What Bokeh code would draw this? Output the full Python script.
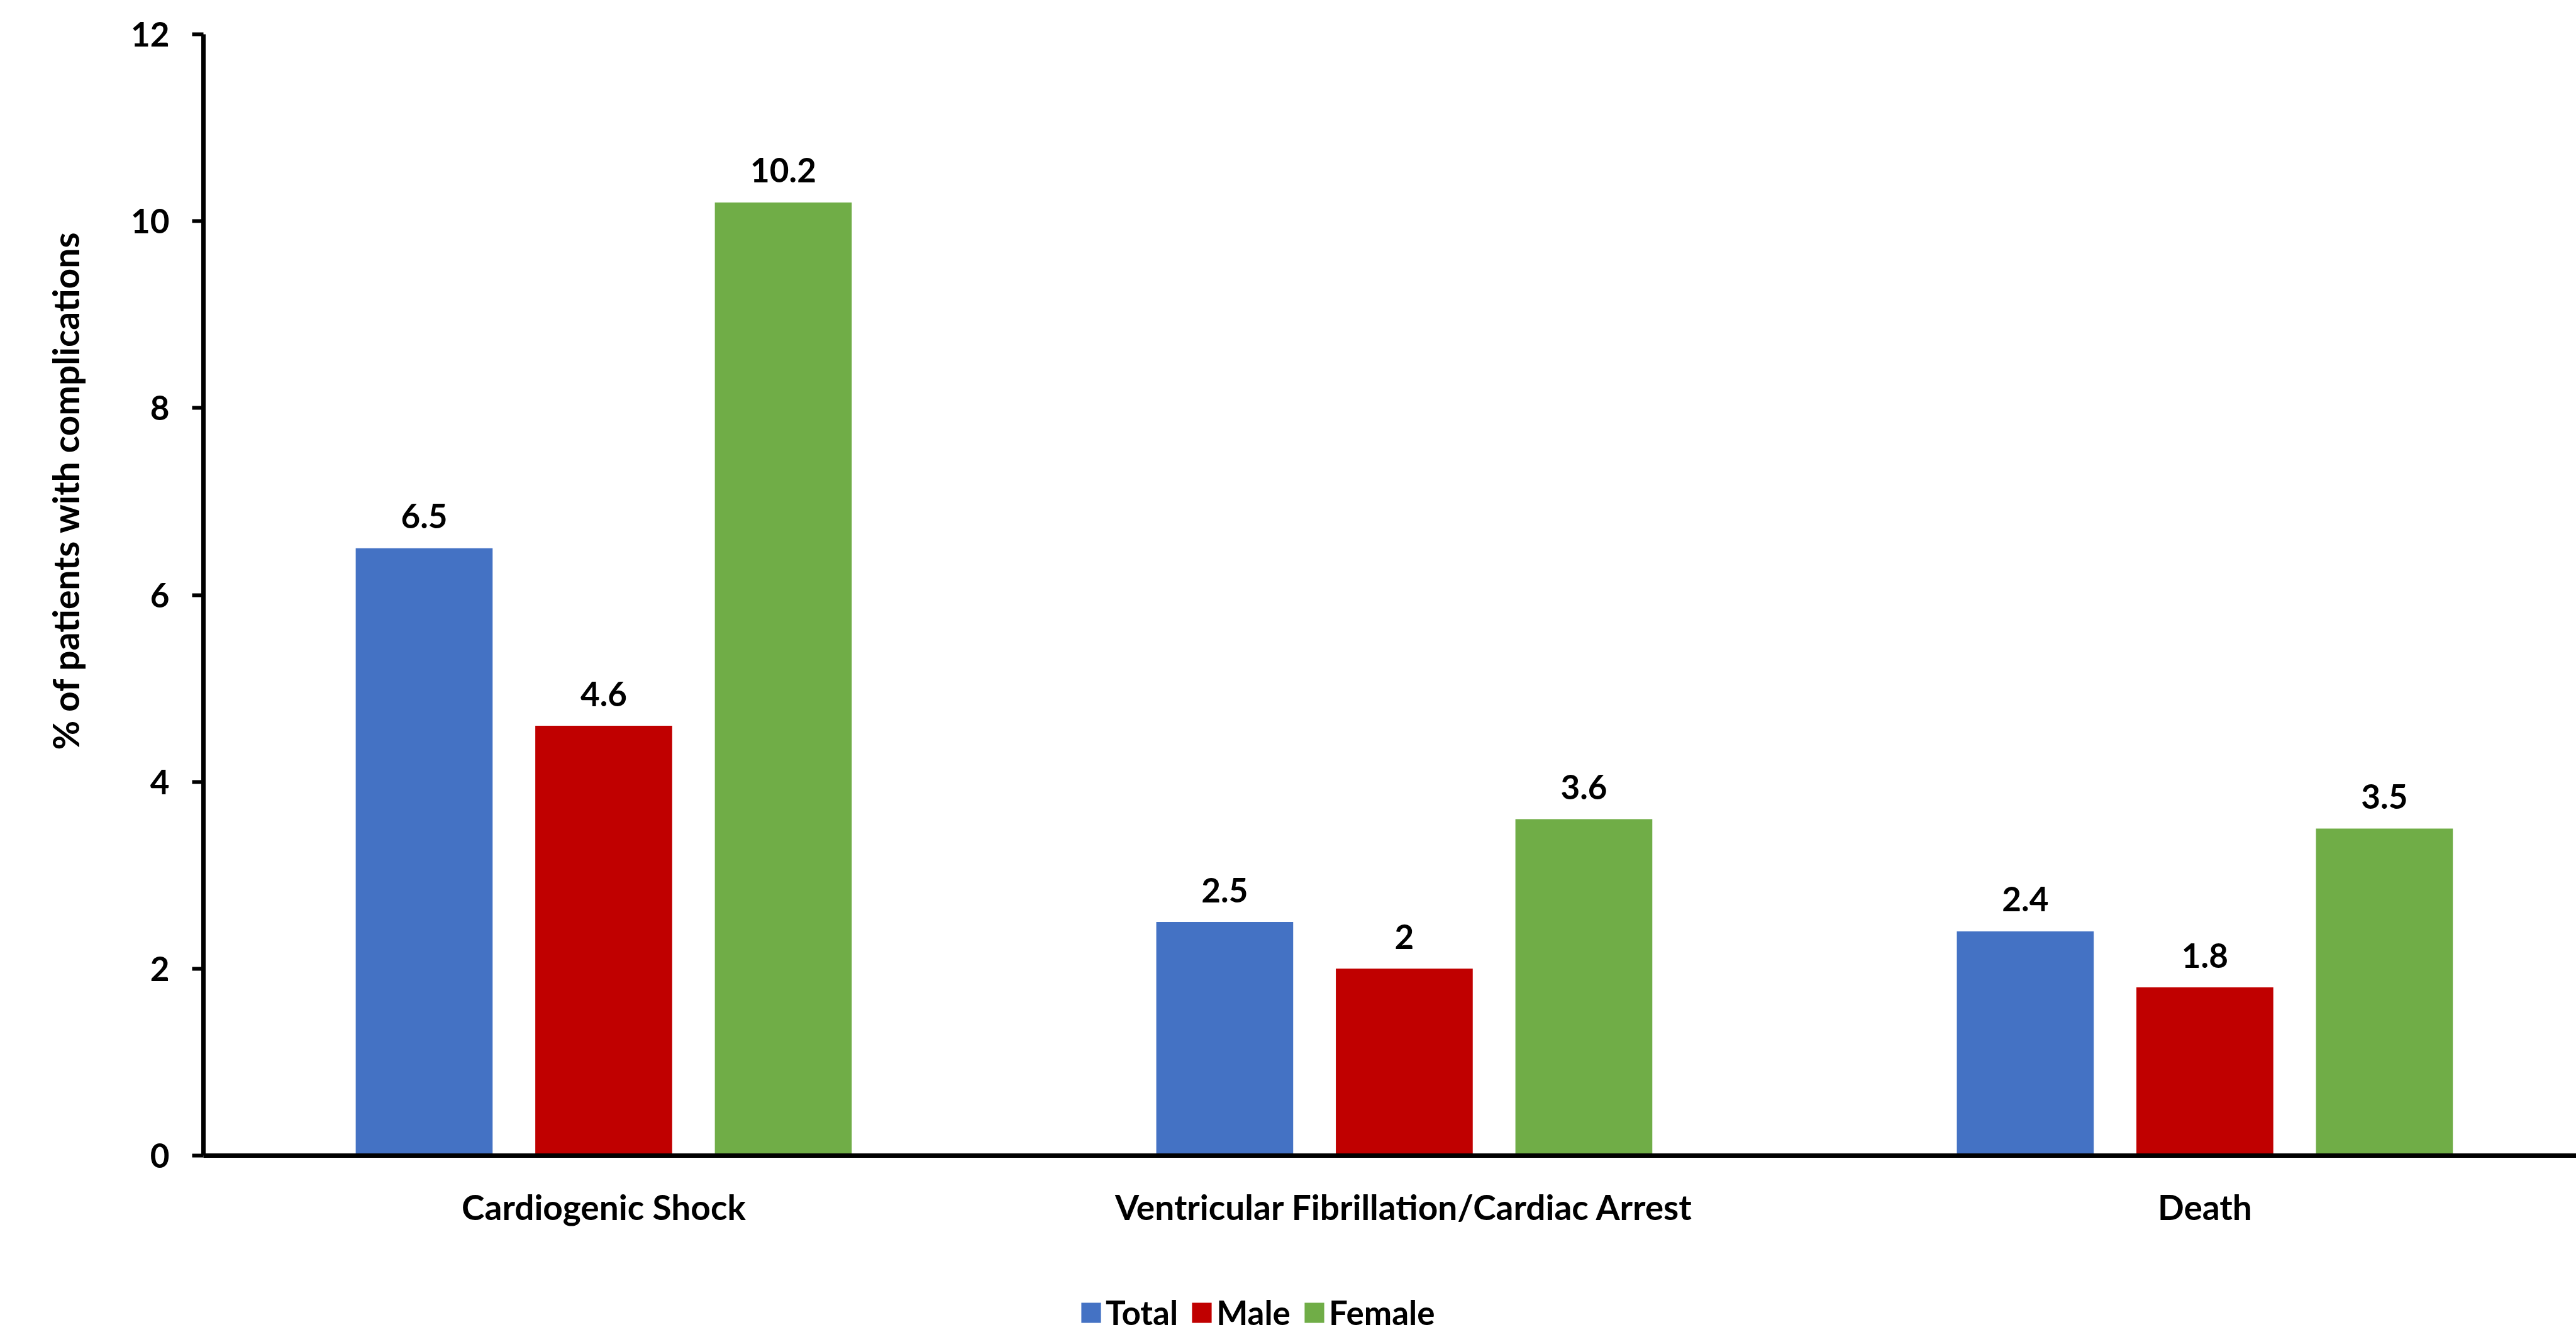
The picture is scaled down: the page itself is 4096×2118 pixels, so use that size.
from bokeh.core.properties import value
from bokeh.embed import file_html
from bokeh.layouts import column
from bokeh.models import (ColumnDataSource, FixedTicker, Legend, LegendItem,
                          Range1d, Title)
from bokeh.plotting import figure
from bokeh.resources import INLINE
from bokeh.transform import dodge

# ---- data -------------------------------------------------------------
categories = ["Cardiogenic Shock",
              "Ventricular Fibrillation/Cardiac Arrest",
              "Death"]
series_names = ["Total", "Male", "Female"]
total = [6.5, 2.5, 2.4]
male = [4.6, 2.0, 1.8]
female = [10.2, 3.6, 3.5]
y_ticks = [0, 2, 4, 6, 8, 10, 12]
y_label = "% of patients with complications"

# ---- styling ----------------------------------------------------------
colors = ["#4472C4", "#C00000", "#70AD47"]
FONT = "Lato"
NUM_SIZE = "53px"
CAT_SIZE = "55px"
BAR_W = 0.171
OFFSETS = [-0.2243, 0.0, 0.2243]

x_pos = [i + 0.5 for i in range(len(categories))]
series_values = [total, male, female]

src = ColumnDataSource(dict(
    x=x_pos,
    cat=categories,
    **{name: vals for name, vals in zip(series_names, series_values)},
    **{name + "_lbl": [f"{v:g}" for v in vals]
       for name, vals in zip(series_names, series_values)},
))

p = figure(
    width=4096, height=2030,
    x_range=Range1d(0, 2.964), y_range=Range1d(0, 12),
    output_backend="svg", toolbar_location=None,
    min_border_left=323, min_border_right=0,
    min_border_top=54, min_border_bottom=193,
)
p.background_fill_color = "white"
p.border_fill_color = "white"
p.outline_line_color = None
p.xgrid.visible = False
p.ygrid.visible = False

for name, off, col in zip(series_names, OFFSETS, colors):
    xs = dodge("x", off, range=p.x_range)
    p.vbar(x=xs, top=name, width=BAR_W, bottom=0, source=src,
           fill_color=col, line_color=None)
    p.text(x=xs, y=name, text=name + "_lbl", source=src,
           text_font=value(FONT), text_font_style="bold",
           text_font_size=NUM_SIZE, text_color="black",
           text_align="center", text_baseline="alphabetic", y_offset=-51)

# y axis
ya = p.yaxis[0]
ya.ticker = FixedTicker(ticks=y_ticks)
ya.axis_line_width = 7
ya.axis_line_color = "black"
ya.major_tick_line_width = 6
ya.major_tick_line_color = "black"
ya.major_tick_out = 18
ya.major_tick_in = 0
ya.minor_tick_line_color = None
ya.major_label_text_font = FONT
ya.major_label_text_font_style = "bold"
ya.major_label_text_font_size = NUM_SIZE
ya.major_label_text_color = "black"
ya.major_label_standoff = 36

# x axis with category names at the group centres
xa = p.xaxis[0]
xa.ticker = FixedTicker(ticks=x_pos)
xa.major_label_overrides = {x: c for x, c in zip(x_pos, categories)}
xa.axis_line_width = 7
xa.axis_line_color = "black"
xa.major_tick_line_color = None
xa.minor_tick_line_color = None
xa.major_label_text_font = FONT
xa.major_label_text_font_style = "bold"
xa.major_label_text_font_size = CAT_SIZE
xa.major_label_text_color = "black"
xa.major_label_standoff = 42

# rotated axis title in the left margin, starting above the frame bottom
p.add_layout(Title(
    text=y_label, align="left", offset=645, standoff=135,
    text_font=FONT, text_font_style="bold", text_font_size="57px",
    text_color="black",
), "left")

# ---- legend strip under the chart ------------------------------------
# Shares the x range; its y window lies far above the data, so the bars
# drawn here only serve as legend swatches.
leg = figure(
    width=4096, height=88,
    x_range=p.x_range, y_range=Range1d(1000, 2000),
    x_axis_type=None, y_axis_type=None,
    output_backend="svg", toolbar_location=None,
    min_border=0,
)
leg.outline_line_color = None
leg.xgrid.visible = False
leg.ygrid.visible = False
leg.background_fill_color = "white"
leg.border_fill_color = "white"

items = []
for name, off, col in zip(series_names, OFFSETS, colors):
    r = leg.vbar(x=dodge("x", off, range=leg.x_range), top=name, bottom=0,
                 width=BAR_W, source=src, fill_color=col, line_color=None)
    items.append(LegendItem(label=name, renderers=[r]))

legend = Legend(
    items=items, orientation="horizontal", location=(1392, 0),
    glyph_width=39, glyph_height=40, label_standoff=4, spacing=18,
    padding=0, margin=0, border_line_color=None,
    background_fill_alpha=0,
    label_text_font=FONT, label_text_font_style="bold",
    label_text_font_size=NUM_SIZE, label_text_color="black",
)
leg.add_layout(legend)

layout = column(p, leg, spacing=0)
open("out.html", "w").write(file_html(layout, INLINE))
